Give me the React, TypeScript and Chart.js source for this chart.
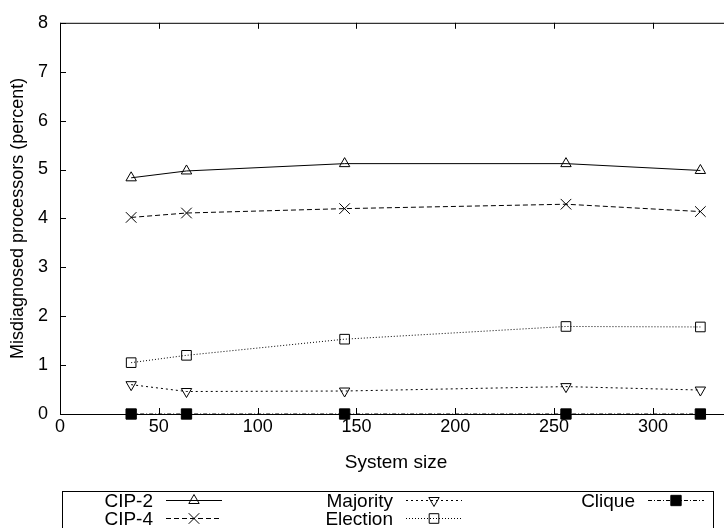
import React, { useEffect, useRef } from 'react';
import { Chart, registerables } from 'chart.js';

Chart.register(...registerables);

const sizes = [36, 64, 144, 256, 324];
const cip2 = [4.83, 4.97, 5.12, 5.12, 4.98];
const cip4 = [4.02, 4.11, 4.2, 4.29, 4.14];
const majority = [0.6, 0.46, 0.47, 0.56, 0.49];
const election = [1.05, 1.2, 1.53, 1.79, 1.78];
const clique = [0, 0, 0, 0, 0];
const xTickValues = [0, 50, 100, 150, 200, 250, 300];
const yTickValues = [0, 1, 2, 3, 4, 5, 6, 7, 8];

const FAMILY = '"Liberation Sans", Arial, Helvetica, sans-serif';
const TICK_SIZE = 18;
const TEXT_SIZE = 19;
const tickFont = { family: FAMILY, size: TICK_SIZE };
const textFont = { family: FAMILY, size: TEXT_SIZE };

const CANVAS_W = 760;
const CANVAS_H = 560;

function pts(ys: number[]) {
  return sizes.map((x, i) => ({ x, y: ys[i] }));
}

function drawMarker(ctx: CanvasRenderingContext2D, ds: any, x: number, y: number) {
  const r = ds.pointRadius;
  const style = ds.pointStyle;
  const rot = ((ds.pointRotation || 0) * Math.PI) / 180;
  ctx.save();
  ctx.setLineDash([]);
  ctx.lineWidth = ds.pointBorderWidth || 1;
  ctx.strokeStyle = ds.pointBorderColor || '#000';
  ctx.fillStyle = ds.pointBackgroundColor || 'transparent';
  ctx.beginPath();
  if (style === 'triangle') {
    let a = rot;
    ctx.moveTo(x + Math.sin(a) * r, y - Math.cos(a) * r);
    a += (2 * Math.PI) / 3;
    ctx.lineTo(x + Math.sin(a) * r, y - Math.cos(a) * r);
    a += (2 * Math.PI) / 3;
    ctx.lineTo(x + Math.sin(a) * r, y - Math.cos(a) * r);
    ctx.closePath();
  } else if (style === 'crossRot') {
    const o = Math.cos(Math.PI / 4) * r;
    ctx.moveTo(x - o, y - o);
    ctx.lineTo(x + o, y + o);
    ctx.moveTo(x + o, y - o);
    ctx.lineTo(x - o, y + o);
  } else if (style === 'rect') {
    const s = Math.SQRT1_2 * r;
    ctx.rect(x - s, y - s, 2 * s, 2 * s);
  }
  if (style !== 'crossRot') ctx.fill();
  ctx.stroke();
  ctx.restore();
}

const framePlugin = {
  id: 'gpFrame',
  beforeDatasetsDraw(chart: any) {
    const { ctx, chartArea } = chart;
    const { left, right, top, bottom } = chartArea;
    const xs = chart.scales.x;
    const ys = chart.scales.y;
    const tl = 6;
    ctx.save();
    ctx.strokeStyle = '#000';
    ctx.lineWidth = 1;
    ctx.setLineDash([]);
    ctx.strokeRect(left + 0.5, top + 0.5, right - left, bottom - top);
    ctx.beginPath();
    xs.ticks.forEach((t: any) => {
      const px = Math.round(xs.getPixelForValue(t.value)) + 0.5;
      ctx.moveTo(px, bottom);
      ctx.lineTo(px, bottom - tl);
      ctx.moveTo(px, top);
      ctx.lineTo(px, top + tl);
    });
    ys.ticks.forEach((t: any) => {
      const py = Math.round(ys.getPixelForValue(t.value)) + 0.5;
      ctx.moveTo(left, py);
      ctx.lineTo(left + tl, py);
      ctx.moveTo(right, py);
      ctx.lineTo(right - tl, py);
    });
    ctx.stroke();
    ctx.restore();
  },
};

const legendPlugin = {
  id: 'gpLegend',
  afterDraw(chart: any) {
    const ctx = chart.ctx as CanvasRenderingContext2D;
    ctx.save();
    ctx.strokeStyle = '#000';
    ctx.lineWidth = 1;
    ctx.setLineDash([]);
    ctx.strokeRect(62.5, 491.5, 651, 60);
    ctx.font = `${TEXT_SIZE}px ${FAMILY}`;
    ctx.textAlign = 'right';
    ctx.textBaseline = 'middle';
    const cols = [153, 393, 635];
    const rows = [501, 519];
    chart.data.datasets.forEach((ds: any, i: number) => {
      const col = Math.floor(i / 2);
      const row = i % 2;
      const tx = cols[col];
      const ty = rows[row];
      ctx.fillStyle = '#000';
      ctx.fillText(ds.label, tx, ty + 1);
      const x0 = tx + 13;
      const x1 = x0 + 56;
      const ly = Math.round(ty) - 0.5;
      ctx.strokeStyle = ds.borderColor;
      ctx.lineWidth = ds.borderWidth;
      ctx.setLineDash(ds.borderDash || []);
      ctx.beginPath();
      ctx.moveTo(x0, ly);
      ctx.lineTo(x1, ly);
      ctx.stroke();
      ctx.setLineDash([]);
      drawMarker(ctx, ds, (x0 + x1) / 2, ly);
    });
    ctx.restore();
  },
};

export default function App() {
  const ref = useRef<HTMLCanvasElement | null>(null);

  useEffect(() => {
    if (!ref.current) return;
    const common = {
      borderColor: '#000',
      borderWidth: 1,
      pointBorderColor: '#000',
      pointBorderWidth: 1,
      tension: 0,
      fill: false,
      clip: false as any,
    };
    const chart = new Chart(ref.current, {
      type: 'line',
      data: {
        datasets: [
          {
            ...common,
            label: 'CIP-2',
            data: pts(cip2),
            borderDash: [],
            pointStyle: 'triangle',
            pointRadius: 6,
            pointBackgroundColor: 'transparent',
          },
          {
            ...common,
            label: 'CIP-4',
            data: pts(cip4),
            borderDash: [5, 3],
            pointStyle: 'crossRot',
            pointRadius: 7.5,
            pointBackgroundColor: 'transparent',
          },
          {
            ...common,
            label: 'Majority',
            data: pts(majority),
            borderDash: [2, 3],
            pointStyle: 'triangle',
            pointRotation: 180,
            pointRadius: 6,
            pointBackgroundColor: 'transparent',
          },
          {
            ...common,
            label: 'Election',
            data: pts(election),
            borderDash: [1, 2],
            pointStyle: 'rect',
            pointRadius: 6.8,
            pointBackgroundColor: 'transparent',
          },
          {
            ...common,
            label: 'Clique',
            data: pts(clique),
            borderDash: [4, 2, 1, 2],
            pointStyle: 'rect',
            pointRadius: 7.3,
            pointBackgroundColor: '#000',
          },
        ] as any,
      },
      options: {
        responsive: false,
        animation: false,
        devicePixelRatio: 1,
        layout: { padding: { left: 0, top: 15, right: CANVAS_W - 732, bottom: CANVAS_H - 414 - 60 } },
        plugins: {
          legend: { display: false },
          tooltip: { enabled: false },
        },
        scales: {
          x: {
            type: 'linear',
            min: 0,
            max: 340,
            afterBuildTicks: (s: any) => {
              s.ticks = xTickValues.map((v) => ({ value: v }));
            },
            afterFit: (s: any) => {
              s.height = 60;
            },
            grid: { display: false, drawTicks: false },
            border: { display: false },
            ticks: { font: tickFont, color: '#000', padding: 2, maxRotation: 0, autoSkip: false },
            title: {
              display: true,
              text: 'System size',
              font: textFont,
              color: '#000',
              padding: { top: 0, bottom: 0 },
            },
          },
          y: {
            type: 'linear',
            min: 0,
            max: 8,
            afterBuildTicks: (s: any) => {
              s.ticks = yTickValues.map((v) => ({ value: v }));
            },
            afterFit: (s: any) => {
              s.width = 60;
            },
            grid: { display: false, drawTicks: false },
            border: { display: false },
            ticks: { font: tickFont, color: '#000', padding: 12, autoSkip: false },
            title: {
              display: true,
              text: 'Misdiagnosed processors (percent)',
              font: tickFont,
              color: '#000',
              padding: { top: 7, bottom: 0 },
            },
          },
        },
      } as any,
      plugins: [framePlugin, legendPlugin],
    });
    return () => chart.destroy();
  }, []);

  return (
    <div
      style={{
        position: 'fixed',
        left: 0,
        top: 0,
        width: 724,
        height: 528,
        overflow: 'hidden',
        background: '#fff',
      }}
    >
      <canvas
        ref={ref}
        width={CANVAS_W}
        height={CANVAS_H}
        style={{ display: 'block', width: CANVAS_W, height: CANVAS_H }}
      />
    </div>
  );
}
